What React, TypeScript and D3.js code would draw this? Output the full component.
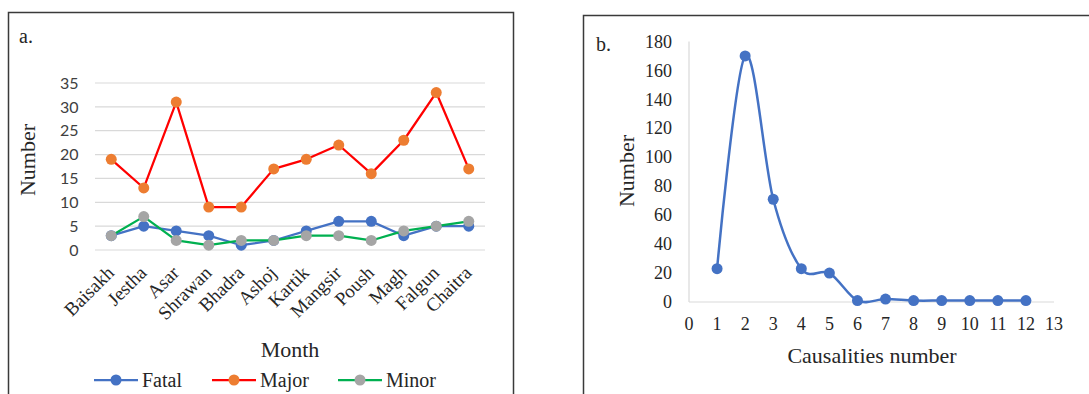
import * as d3 from "d3";
import React, { useRef, useEffect } from "react";

const width = 1089;
const height = 394;

// panel a: monthly accidents
const months = ["Baisakh", "Jestha", "Asar", "Shrawan", "Bhadra", "Ashoj", "Kartik", "Mangsir", "Poush", "Magh", "Falgun", "Chaitra"];
const fatal = [3, 5, 4, 3, 1, 2, 4, 6, 6, 3, 5, 5];
const major = [19, 13, 31, 9, 9, 17, 19, 22, 16, 23, 33, 17];
const minor = [3, 7, 2, 1, 2, 2, 3, 3, 2, 4, 5, 6];
const monthTicks = [0, 5, 10, 15, 20, 25, 30, 35];

// panel b: casualties distribution
const casualties = [1, 2, 3, 4, 5, 6, 7, 8, 9, 10, 11, 12];
const casualtyCounts = [23, 170, 71, 23, 20, 1, 2, 1, 1, 1, 1, 1];
const countTicks = [0, 20, 40, 60, 80, 100, 120, 140, 160, 180];
const casualtyTicks = [0, 1, 2, 3, 4, 5, 6, 7, 8, 9, 10, 11, 12, 13];

const serif = "'Liberation Serif', 'Times New Roman', serif";
const sans = "Lato, 'Liberation Sans', sans-serif";
const textColor = "#262626";
const blue = "#4472C4";

const seriesA = [
    { name: "Fatal", values: fatal, line: blue, marker: blue },
    { name: "Major", values: major, line: "#FF0000", marker: "#ED7D31" },
    { name: "Minor", values: minor, line: "#00B050", marker: "#A5A5A5" },
];

export default function App() {
    const ref = useRef(null);

    useEffect(() => {
        const svg = d3.select(ref.current);
        svg.selectAll("*").remove();

        // ---------- panel a ----------
        const a = svg.append("g");
        a.append("rect")
            .attr("x", 8.5).attr("y", 12.5).attr("width", 505).attr("height", 400)
            .attr("fill", "none").attr("stroke", "#3a3a3a").attr("stroke-width", 1.5);
        a.append("text").attr("x", 19).attr("y", 43).text("a.")
            .attr("font-family", serif).attr("font-size", 20).attr("fill", textColor);

        const x = d3.scaleBand().domain(months).range([95, 485]);
        const y = d3.scaleLinear().domain([0, 35]).range([250, 83]);
        const cx = m => x(m) + x.bandwidth() / 2;

        a.append("g").selectAll("line").data(monthTicks).join("line")
            .attr("x1", 95).attr("x2", 485)
            .attr("y1", d => y(d)).attr("y2", d => y(d))
            .attr("stroke", "#d9d9d9").attr("stroke-width", 1.2);

        a.append("g").selectAll("text").data(monthTicks).join("text")
            .attr("x", 78.5).attr("y", d => y(d)).attr("dy", "0.36em")
            .attr("text-anchor", "end")
            .attr("font-family", sans).attr("font-size", 16).attr("fill", "#404040")
            .text(d => d);

        a.append("g").selectAll("text").data(months).join("text")
            .attr("transform", d => `translate(${cx(d) + 4},274) rotate(-45)`)
            .attr("text-anchor", "end")
            .attr("font-family", serif).attr("font-size", 19).attr("fill", textColor)
            .text(d => d);

        const lineA = d3.line().x((d, i) => cx(months[i])).y(d => y(d));
        seriesA.forEach(s => {
            a.append("path").datum(s.values).attr("d", lineA)
                .attr("fill", "none").attr("stroke", s.line).attr("stroke-width", 2.25)
                .attr("stroke-linejoin", "round");
            a.append("g").selectAll("circle").data(s.values).join("circle")
                .attr("cx", (d, i) => cx(months[i])).attr("cy", d => y(d)).attr("r", 5.5)
                .attr("fill", s.marker);
        });

        a.append("text").attr("x", 290).attr("y", 357).attr("text-anchor", "middle")
            .attr("font-family", serif).attr("font-size", 22).attr("fill", textColor).text("Month");
        a.append("text").attr("transform", "translate(35,160) rotate(-90)").attr("text-anchor", "middle")
            .attr("font-family", serif).attr("font-size", 22).attr("fill", textColor).text("Number");

        const legendX = [94, 212, 338];
        const legend = a.append("g").selectAll("g").data(seriesA).join("g")
            .attr("transform", (d, i) => `translate(${legendX[i]},380)`);
        legend.append("line").attr("x1", 0).attr("x2", 44).attr("y1", 0).attr("y2", 0)
            .attr("stroke", d => d.line).attr("stroke-width", 2.25);
        legend.append("circle").attr("cx", 22).attr("cy", 0).attr("r", 5.5).attr("fill", d => d.marker);
        legend.append("text").attr("x", 48).attr("y", 7)
            .attr("font-family", serif).attr("font-size", 20).attr("fill", textColor)
            .text(d => d.name);

        // ---------- panel b ----------
        const b = svg.append("g");
        b.append("rect")
            .attr("x", 583.5).attr("y", 15.5).attr("width", 600).attr("height", 400)
            .attr("fill", "none").attr("stroke", "#3a3a3a").attr("stroke-width", 1.5);
        b.append("text").attr("x", 596).attr("y", 51).text("b.")
            .attr("font-family", serif).attr("font-size", 20).attr("fill", textColor);

        const x2 = d3.scaleLinear().domain([0, 13]).range([689, 1054]);
        const y2 = d3.scaleLinear().domain([0, 180]).range([302, 41.5]);

        b.append("line").attr("x1", x2(0)).attr("x2", x2(0)).attr("y1", y2(180)).attr("y2", y2(0))
            .attr("stroke", "#d9d9d9").attr("stroke-width", 1.2);
        b.append("line").attr("x1", x2(0)).attr("x2", x2(13)).attr("y1", y2(0)).attr("y2", y2(0))
            .attr("stroke", "#d9d9d9").attr("stroke-width", 1.2);

        b.append("g").selectAll("text").data(countTicks).join("text")
            .attr("x", 672).attr("y", d => y2(d)).attr("dy", "0.34em")
            .attr("text-anchor", "end")
            .attr("font-family", serif).attr("font-size", 18).attr("fill", textColor)
            .text(d => d);

        b.append("g").selectAll("text").data(casualtyTicks).join("text")
            .attr("x", d => x2(d)).attr("y", 330)
            .attr("text-anchor", "middle")
            .attr("font-family", serif).attr("font-size", 18).attr("fill", textColor)
            .text(d => d);

        const lineB = d3.line().curve(d3.curveCardinal.tension(0))
            .x((d, i) => x2(casualties[i])).y(d => y2(d));
        b.append("path").datum(casualtyCounts).attr("d", lineB)
            .attr("fill", "none").attr("stroke", blue).attr("stroke-width", 2.5);
        b.append("g").selectAll("circle").data(casualtyCounts).join("circle")
            .attr("cx", (d, i) => x2(casualties[i])).attr("cy", d => y2(d)).attr("r", 5.5)
            .attr("fill", blue);

        b.append("text").attr("x", 872).attr("y", 363).attr("text-anchor", "middle")
            .attr("font-family", serif).attr("font-size", 22).attr("fill", textColor).text("Causalities number");
        b.append("text").attr("transform", "translate(634,171) rotate(-90)").attr("text-anchor", "middle")
            .attr("font-family", serif).attr("font-size", 22).attr("fill", textColor).text("Number");
    }, []);

    return (
        <svg
            ref={ref}
            width={width}
            height={height}
            style={{ position: "absolute", left: 0, top: 0, display: "block", background: "#fff" }}
        />
    );
}
